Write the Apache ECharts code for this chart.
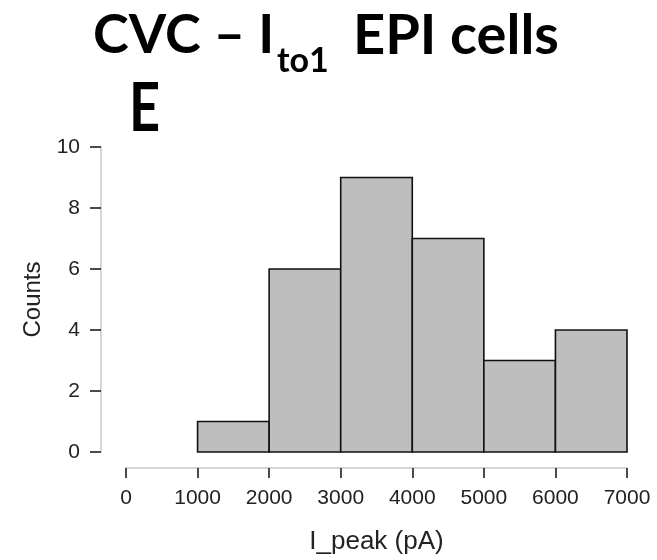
<!DOCTYPE html>
<html><head><meta charset="utf-8">
<script src="https://cdn.jsdelivr.net/npm/echarts@6/dist/echarts.min.js"></script>
<style>html,body{margin:0;padding:0;background:#fff}#c{width:657px;height:560px}</style>
</head><body><div id="c"></div>
<script>
const binStarts = [1000, 2000, 3000, 4000, 5000, 6000];
const binEnds = [2000, 3000, 4000, 5000, 6000, 7000];
const counts = [1, 6, 9, 7, 3, 4];
const xTicks = [0, 1000, 2000, 3000, 4000, 5000, 6000, 7000];
const yTicks = [0, 2, 4, 6, 8, 10];

const chart = echarts.init(document.getElementById('c'), null, {renderer: 'canvas'});
const data = counts.map((c, i) => [binStarts[i], binEnds[i], c]);
const axFont = 'Liberation Sans';
const tFont = 'Lato';
chart.setOption({
  animation: false,
  backgroundColor: '#fff',
  graphic: [
    {type: 'text', left: 93, top: 9,
     style: {text: 'CVC – I', fontFamily: tFont, fontWeight: 'bold', fontSize: 54, fill: '#000'}},
    {type: 'text', left: 277, top: 44,
     style: {text: 'to1', fontFamily: tFont, fontWeight: 'bold', fontSize: 34, fill: '#000'}},
    {type: 'text', left: 353, top: 8,
     style: {text: 'EPI cells', fontFamily: tFont, fontWeight: 'bold', fontSize: 56, fill: '#000'}},
    {type: 'text', left: 129, top: 77, scaleX: 0.82,
     style: {text: 'E', fontFamily: tFont, fontWeight: 'bold', fontSize: 66, fill: '#000'}}
  ],
  grid: {left: 126, right: 30, top: 147, bottom: 107},
  xAxis: {
    type: 'value', min: 0, max: 7000, interval: 1000, offset: 16,
    name: 'I_peak (pA)', nameLocation: 'middle', nameGap: 61,
    nameTextStyle: {fontFamily: axFont, fontSize: 26, color: '#222'},
    axisLine: {show: true, onZero: false, lineStyle: {color: '#c8c8c8', width: 1.5}},
    axisTick: {show: true, length: 10, lineStyle: {color: '#111', width: 1.5}},
    axisLabel: {fontFamily: axFont, fontSize: 21, color: '#222', margin: 20,
      formatter: v => String(v)},
    splitLine: {show: false}
  },
  yAxis: {
    type: 'value', min: 0, max: 10, interval: 2, offset: 25,
    name: 'Counts', nameLocation: 'middle', nameGap: 56, nameRotate: 90,
    nameTextStyle: {fontFamily: axFont, fontSize: 24, color: '#222'},
    axisLine: {show: true, onZero: false, lineStyle: {color: '#c8c8c8', width: 1.5}},
    axisTick: {show: true, length: 11, lineStyle: {color: '#111', width: 1.5}},
    axisLabel: {fontFamily: axFont, fontSize: 21, color: '#222', margin: 21,
      formatter: v => String(v)},
    splitLine: {show: false}
  },
  series: [{
    type: 'custom',
    data: data,
    encode: {x: [0, 1], y: 2},
    renderItem: function (params, api) {
      const p0 = api.coord([api.value(0), api.value(2)]);
      const p1 = api.coord([api.value(1), 0]);
      return {
        type: 'rect',
        shape: {x: p0[0], y: p0[1], width: p1[0] - p0[0], height: p1[1] - p0[1]},
        style: {fill: '#bebebe', stroke: '#111', lineWidth: 1.6}
      };
    }
  }]
});
</script></body></html>
